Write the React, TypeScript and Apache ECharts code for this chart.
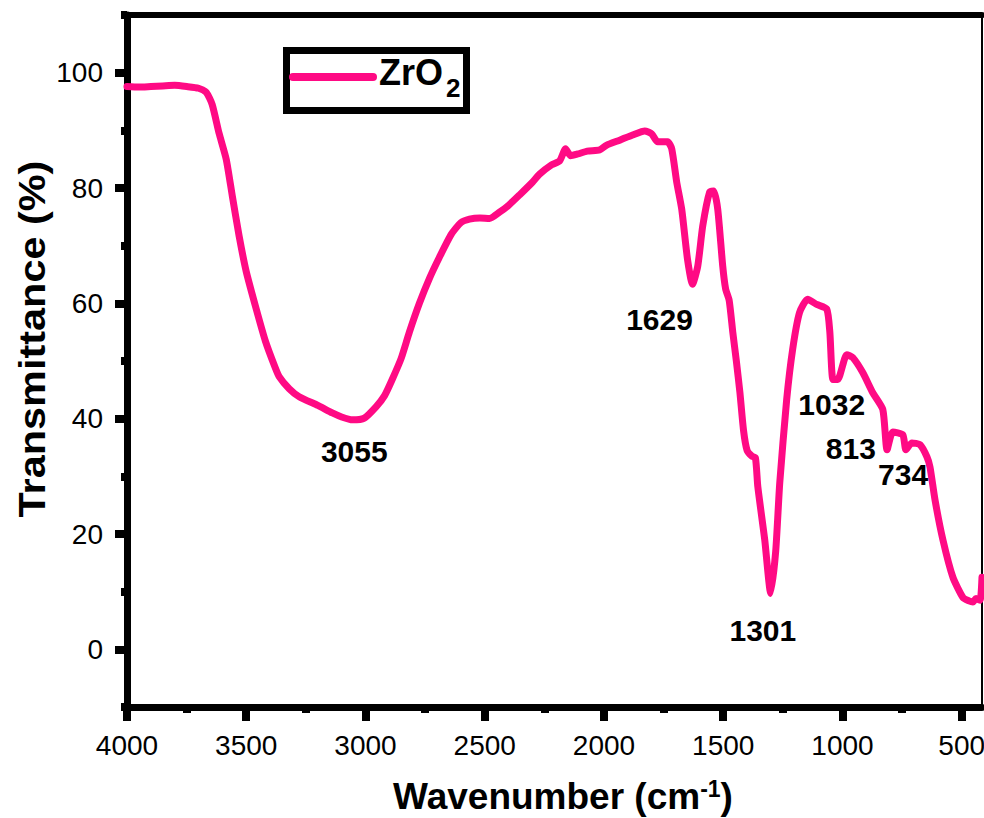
import React, { useEffect, useRef } from 'react';
import * as echarts from 'echarts';

const wavenumber = [
  4000, 3950, 3900, 3850, 3800, 3750, 3700, 3668, 3643, 3614, 3584, 3558, 3530, 3500, 3458, 3420, 3380, 3362, 3320, 3278,
  3200, 3139, 3100, 3055, 3005, 2955, 2920, 2888, 2850, 2816, 2774, 2730, 2690, 2640, 2600, 2564, 2520, 2480, 2438, 2400,
  2354, 2300, 2270, 2220, 2186, 2161, 2140, 2110, 2070, 2018, 1990, 1934, 1880, 1829, 1800, 1775, 1733, 1716, 1695, 1674,
  1650, 1629, 1607, 1586, 1557, 1540, 1523, 1502, 1490, 1475, 1460, 1445, 1430, 1415, 1400, 1380, 1365, 1355, 1326, 1301,
  1280, 1263, 1234, 1209, 1180, 1146, 1108, 1066, 1053, 1040, 1020, 982, 957, 915, 873, 831, 813, 789, 747, 734,
  709, 675, 646, 633, 612, 579, 537, 495, 470, 453, 440, 423, 415,
];
const transmittance = [
  97.6, 97.5, 97.6, 97.7, 97.8, 97.6, 97.3, 96.6, 94.5, 89.5, 85, 78.5, 71.7, 65.5, 59, 53.5, 49, 47.3, 45.2, 43.8,
  42.3, 41, 40.3, 39.8, 40.1, 42.1, 44, 46.8, 50.5, 55, 60, 64.5, 68, 72, 74, 74.6, 74.8, 74.7, 75.8, 77,
  78.8, 81, 82.4, 84, 84.7, 86.8, 85.6, 85.9, 86.4, 86.6, 87.4, 88.3, 89.2, 89.9, 89.4, 88, 88, 86.8, 81, 76.3,
  67.7, 63.3, 66.4, 73.4, 79.3, 79.5, 76.3, 66.4, 62.5, 60.5, 55, 50, 44.5, 38, 34.5, 33.5, 33.2, 28.2, 19, 9.7,
  17, 28.9, 43.3, 52, 58.4, 60.7, 59.8, 59, 55, 46.8, 46.8, 51.1, 50.6, 48, 44.5, 41.6, 34.6, 37.7, 37.2, 34.6,
  35.8, 35.5, 33.4, 31.6, 25.9, 19, 12.5, 9, 8.4, 8.2, 8.8, 8.5, 12.5,
];

const xMajorTicks = [4000, 3500, 3000, 2500, 2000, 1500, 1000, 500];
const xMinorTicks = [3750, 3250, 2750, 2250, 1750, 1250, 750];
const yMajorTicks = [0, 20, 40, 60, 80, 100];
const yMinorTicks = [-10, 10, 30, 50, 70, 90, 110];

const peakLabels = ['3055', '1629', '1301', '1032', '813', '734'];
const peakLabelX = [3047, 1767, 1334, 1045, 965, 746];
const peakLabelY = [34.3, 57.2, 3.3, 42.4, 34.8, 30.3];

const seriesName = 'ZrO';
const seriesSub = '2';
const xTitle = 'Wavenumber (cm';
const xTitleSup = '-1';
const yTitle = 'Transmittance (%)';

const FONT = '"Liberation Sans", Arial, Helvetica, sans-serif';
const PINK = '#ff0a84';

export default function App() {
  const ref = useRef<HTMLDivElement>(null);
  useEffect(() => {
    const chart = echarts.init(ref.current!, null, { renderer: 'svg' });
    const lineData = wavenumber.map((w, i) => [w, transmittance[i]]);
    const labelData = peakLabels.map((t, i) => [peakLabelX[i], peakLabelY[i], t]);
    const xBase = { type: 'value', min: 415, max: 4000, inverse: true, splitLine: { show: false } };
    const yBase = { type: 'value', min: -10, max: 110, splitLine: { show: false } };
    const plain = (v: number) => String(v);
    chart.setOption({
      animation: false,
      backgroundColor: '#fff',
      grid: { left: 127, right: 2, top: 15, bottom: 111, containLabel: false, outerBoundsMode: 'none' },
      xAxis: [
        {
          ...xBase,
          position: 'bottom',
          axisLine: { show: true, onZero: false, lineStyle: { color: '#000', width: 7 } },
          axisTick: { show: true, customValues: xMajorTicks, length: 14, lineStyle: { color: '#000', width: 8 } },
          axisLabel: { show: true, customValues: xMajorTicks, formatter: plain, fontSize: 28, color: '#000', fontFamily: FONT, margin: 24 },
        },
        {
          ...xBase,
          position: 'bottom',
          axisLine: { show: false, onZero: false },
          axisTick: { show: true, customValues: xMinorTicks, length: 6, lineStyle: { color: '#000', width: 8 } },
          axisLabel: { show: false },
        },
        {
          ...xBase,
          position: 'top',
          axisLine: { show: true, onZero: false, lineStyle: { color: '#000', width: 6 } },
          axisTick: { show: false },
          axisLabel: { show: false },
        },
      ],
      yAxis: [
        {
          ...yBase,
          position: 'left',
          axisLine: { show: true, onZero: false, lineStyle: { color: '#000', width: 7 } },
          axisTick: { show: true, customValues: yMajorTicks, length: 12, lineStyle: { color: '#000', width: 8 } },
          axisLabel: { show: true, customValues: yMajorTicks, formatter: plain, fontSize: 28, color: '#000', fontFamily: FONT, margin: 24 },
        },
        {
          ...yBase,
          position: 'left',
          axisLine: { show: false, onZero: false },
          axisTick: { show: true, customValues: yMinorTicks, length: 6, lineStyle: { color: '#000', width: 8 } },
          axisLabel: { show: false },
        },
        {
          ...yBase,
          position: 'right',
          axisLine: { show: true, onZero: false, lineStyle: { color: '#000', width: 2 } },
          axisTick: { show: false },
          axisLabel: { show: false },
        },
      ],
      series: [
        {
          type: 'line',
          name: seriesName + seriesSub,
          xAxisIndex: 0,
          yAxisIndex: 0,
          data: lineData,
          showSymbol: false,
          smooth: 0.2,
          lineStyle: { color: PINK, width: 7, join: 'round', cap: 'round' },
          z: 3,
        },
        {
          type: 'scatter',
          xAxisIndex: 0,
          yAxisIndex: 0,
          data: labelData,
          symbolSize: 0,
          itemStyle: { color: '#000', opacity: 1 },
          label: {
            show: true,
            position: 'inside',
            formatter: (p: any) => p.value[2],
            fontSize: 30,
            fontWeight: 'bold',
            color: '#000',
            opacity: 1,
            textBorderWidth: 0,
            fontFamily: FONT,
          },
          emphasis: { disabled: true },
          z: 4,
        },
      ],
      graphic: [
        {
          type: 'rect',
          shape: { x: 286.5, y: 50.5, width: 180, height: 60 },
          style: { fill: '#fff', stroke: '#000', lineWidth: 7 },
          z: 10,
        },
        {
          type: 'line',
          shape: { x1: 293, y1: 77, x2: 373, y2: 77 },
          style: { stroke: PINK, lineWidth: 8, lineCap: 'round' },
          z: 11,
        },
        {
          type: 'text',
          x: 379,
          y: 90,
          style: { text: seriesName, fontSize: 36, fontWeight: 'bold', fill: '#000', fontFamily: FONT, align: 'left', verticalAlign: 'bottom' },
          z: 11,
        },
        {
          type: 'text',
          x: 446,
          y: 101,
          style: { text: seriesSub, fontSize: 26, fontWeight: 'bold', fill: '#000', fontFamily: FONT, align: 'left', verticalAlign: 'bottom' },
          z: 11,
        },
        {
          type: 'text',
          x: 563,
          y: 796,
          style: {
            text: '{a|' + xTitle + '}{s|' + xTitleSup + '}{a|)}',
            align: 'center',
            verticalAlign: 'middle',
            fill: '#000',
            rich: {
              a: { fontSize: 37, fontWeight: 'bold', fontFamily: FONT, fill: '#000', lineHeight: 38, verticalAlign: 'bottom' },
              s: { fontSize: 23, fontWeight: 'bold', fontFamily: FONT, fill: '#000', lineHeight: 38, verticalAlign: 'top', padding: [0, 0, 14, 0] },
            },
          },
        },
        {
          type: 'text',
          x: 32,
          y: 339,
          rotation: Math.PI / 2,
          scaleX: 1.12,
          style: { text: yTitle, fontSize: 37, fontWeight: 'bold', fill: '#000', fontFamily: FONT, align: 'center', verticalAlign: 'middle' },
        },
      ],
    });
    return () => chart.dispose();
  }, []);
  return <div ref={ref} style={{ position: 'fixed', left: 0, top: 0, width: 984, height: 818 }} />;
}
